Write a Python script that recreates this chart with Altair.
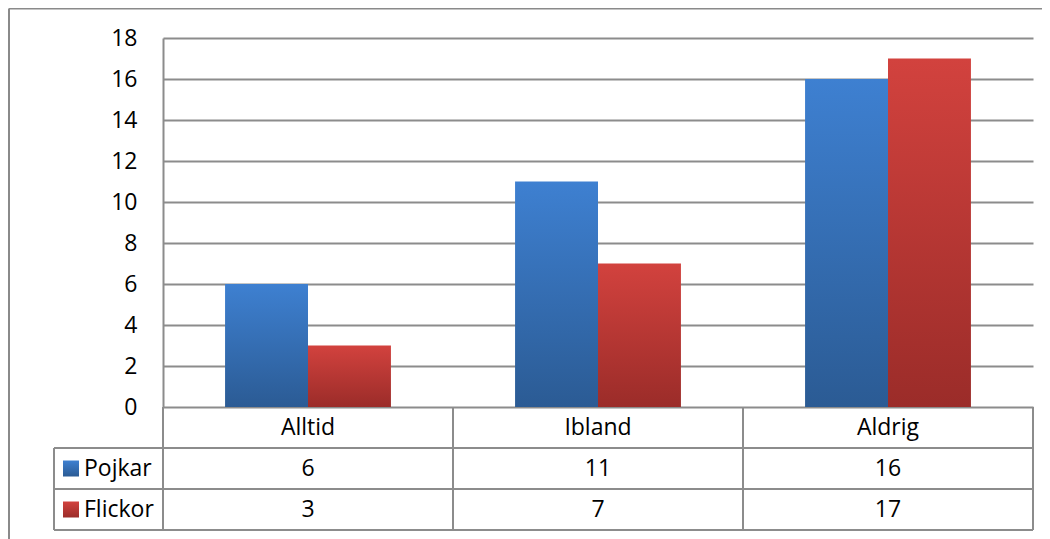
import altair as alt
import pandas as pd

categories = ["Alltid", "Ibland", "Aldrig"]
series_names = ["Pojkar", "Flickor"]
pojkar = [6, 11, 16]
flickor = [3, 7, 17]
y_ticks = [0, 2, 4, 6, 8, 10, 12, 14, 16, 18]

# layout (pixels, relative to plot origin)
W, H = 870, 369
ROW = 41
LABEL_COL = 109
FONT = "Open Sans"
FS = 23
GRID = "#8c8c8c"

rows = []
for s, vals in zip(series_names, [pojkar, flickor]):
    for c, v in zip(categories, vals):
        rows.append({"kategori": c, "serie": s, "varde": v})
df = pd.DataFrame(rows)
cat_df = pd.DataFrame({"kategori": categories})


def grad(top, bottom):
    return alt.LinearGradient(
        gradient="linear",
        stops=[alt.GradientStop(offset=0, color=top), alt.GradientStop(offset=1, color=bottom)],
        x1=0, x2=0, y1=0, y2=1,
    )


grads = {"Pojkar": grad("#3e80d1", "#2b5b94"), "Flickor": grad("#d2423e", "#9b2c29")}

x_enc = alt.X("kategori:N", sort=categories,
              scale=alt.Scale(domain=categories, paddingInner=0.428, paddingOuter=0.214),
              axis=None)
xoff = alt.XOffset("serie:N", sort=series_names,
                   scale=alt.Scale(domain=series_names, paddingInner=0, paddingOuter=0))
y_enc = alt.Y("varde:Q", scale=alt.Scale(domain=[0, 18], nice=False),
              axis=alt.Axis(values=y_ticks, title=None, grid=True, ticks=False,
                            labelPadding=26, labelFontSize=FS, labelFont=FONT,
                            labelColor="#000000", gridColor=GRID, gridWidth=2,
                            domainColor=GRID, domainWidth=2))

layers = []
for s in series_names:
    layers.append(
        alt.Chart(df).transform_filter(alt.datum.serie == s)
        .mark_bar(color=grads[s])
        .encode(x=x_enc, xOffset=xoff, y=y_enc)
    )

# table header: category names
layers.append(
    alt.Chart(cat_df).mark_text(font=FONT, fontSize=FS, color="#000000")
    .encode(x=x_enc, y=alt.value(H + ROW / 2), text="kategori:N")
)

# table rows: values, legend keys and series names
for i, s in enumerate(series_names):
    yc = H + ROW * (1.5 + i)
    layers.append(
        alt.Chart(df).transform_filter(alt.datum.serie == s)
        .mark_text(font=FONT, fontSize=FS, color="#000000")
        .encode(x=x_enc, y=alt.value(yc), text="varde:Q")
    )
    key = pd.DataFrame({"serie": [s]})
    layers.append(
        alt.Chart(key).mark_rect(fill=grads[s])
        .encode(x=alt.value(-LABEL_COL + 9), x2=alt.value(-LABEL_COL + 25),
                y=alt.value(yc - 8), y2=alt.value(yc + 8))
    )
    layers.append(
        alt.Chart(key).mark_text(font=FONT, fontSize=FS, color="#000000", align="left")
        .encode(x=alt.value(-LABEL_COL + 30), y=alt.value(yc), text="serie:N")
    )

# table grid lines
segments = [
    (0, W, H + ROW, H + ROW),
    (-LABEL_COL, W, H + 2 * ROW, H + 2 * ROW),
    (-LABEL_COL, W, H + 3 * ROW, H + 3 * ROW),
    (-LABEL_COL, 0, H + ROW, H + ROW),
    (0, 0, H, H + 3 * ROW),
    (W / 3, W / 3, H, H + 3 * ROW),
    (2 * W / 3, 2 * W / 3, H, H + 3 * ROW),
    (W, W, H, H + 3 * ROW),
    (-LABEL_COL, -LABEL_COL, H + ROW, H + 3 * ROW),
]
one = pd.DataFrame({"a": [0]})
for x1, x2, y1, y2 in segments:
    layers.append(
        alt.Chart(one).mark_rule(color=GRID, strokeWidth=2)
        .encode(x=alt.value(x1), x2=alt.value(x2), y=alt.value(y1), y2=alt.value(y2))
    )

# outer chart frame (top and left edges visible)
for x1, x2, y1, y2 in [(-154, 890, -29.5, -29.5), (-154, -154, -29.5, 510)]:
    layers.append(
        alt.Chart(one).mark_rule(color="#8a8a8a", strokeWidth=2)
        .encode(x=alt.value(x1), x2=alt.value(x2), y=alt.value(y1), y2=alt.value(y2))
    )

chart = alt.layer(*layers).properties(
    width=W, height=H,
    autosize="none",
    padding={"left": 155, "top": 30, "right": 9, "bottom": 132},
    background="#ffffff",
).configure_view(stroke=None)

chart.save("out.html", embed_options={"renderer": "svg", "actions": False})
